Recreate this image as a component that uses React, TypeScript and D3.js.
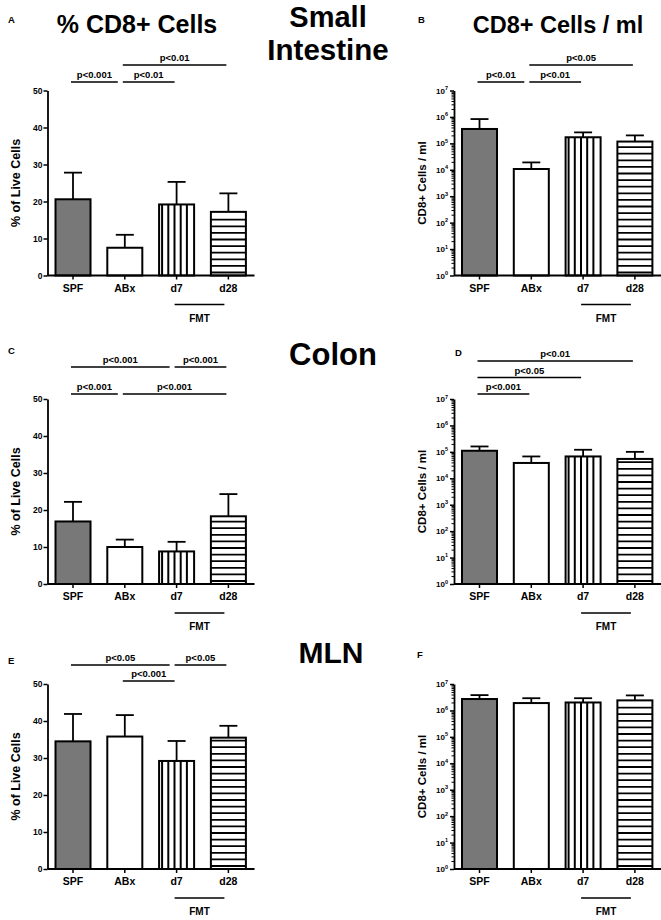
import { useEffect, useRef } from 'react'
import * as d3 from 'd3'

const W = 661
const H = 920
const FONT = "'Liberation Sans', Arial, Helvetica, sans-serif"

const groups = ['SPF', 'ABx', 'd7', 'd28']

// means and the top of the error bar
const siPct = [20.6, 7.5, 19.2, 17.2]
const siPctTop = [27.8, 11.0, 25.3, 22.2]
const siCount = [3.5e5, 1.07e4, 1.7e5, 1.17e5]
const siCountTop = [8.3e5, 1.9e4, 2.6e5, 2.0e5]
const colonPct = [16.9, 10.0, 8.8, 18.3]
const colonPctTop = [22.2, 12.0, 11.4, 24.3]
const colonCount = [1.1e5, 3.8e4, 6.7e4, 5.4e4]
const colonCountTop = [1.6e5, 6.7e4, 1.2e5, 1.0e5]
const mlnPct = [34.5, 35.8, 29.2, 35.5]
const mlnPctTop = [41.9, 41.6, 34.6, 38.7]
const mlnCount = [2.7e6, 1.9e6, 2.0e6, 2.4e6]
const mlnCountTop = [3.8e6, 2.9e6, 2.9e6, 3.7e6]

// comparisons: [from, to, label, level]
const siPctComps = [[0, 1, 'p<0.001', 0], [1, 2, 'p<0.01', 0], [1, 3, 'p<0.01', 1]]
const siCountComps = [[0, 1, 'p<0.01', 0], [1, 2, 'p<0.01', 0], [1, 3, 'p<0.05', 1]]
const colonPctComps = [[0, 1, 'p<0.001', 0], [1, 3, 'p<0.001', 0], [0, 2, 'p<0.001', 1], [2, 3, 'p<0.001', 1]]
const colonCountComps = [[0, 1, 'p<0.001', 0], [0, 2, 'p<0.05', 1], [0, 3, 'p<0.01', 2]]
const mlnPctComps = [[1, 2, 'p<0.001', 0], [0, 2, 'p<0.05', 1], [2, 3, 'p<0.05', 1]]
const mlnCountComps = []

const linTicks = [0, 10, 20, 30, 40, 50]
const logExps = [0, 1, 2, 3, 4, 5, 6, 7]

const colTitles = ['% CD8+ Cells', 'CD8+ Cells / ml']
const rowTitles = [['Small', 'Intestine'], ['Colon'], ['MLN']]

// layout
const colAxisX = [47.5, 454]
const rowTop = [90.5, 399, 684]
const plotH = 185

const panels = [
  { letter: 'A', col: 0, row: 0, log: false, mean: siPct, top: siPctTop, comps: siPctComps, sigBase: 8.5, sigGap: 17, lx: 8, ly: 23 },
  { letter: 'B', col: 1, row: 0, log: true, mean: siCount, top: siCountTop, comps: siCountComps, sigBase: 8.5, sigGap: 17, lx: 418, ly: 23 },
  { letter: 'C', col: 0, row: 1, log: false, mean: colonPct, top: colonPctTop, comps: colonPctComps, sigBase: 5, sigGap: 27, lx: 8, ly: 354 },
  { letter: 'D', col: 1, row: 1, log: true, mean: colonCount, top: colonCountTop, comps: colonCountComps, sigBase: 5, sigGap: 16.5, lx: 455, ly: 356 },
  { letter: 'E', col: 0, row: 2, log: false, mean: mlnPct, top: mlnPctTop, comps: mlnPctComps, sigBase: 3, sigGap: 16, lx: 8, ly: 664 },
  { letter: 'F', col: 1, row: 2, log: true, mean: mlnCount, top: mlnCountTop, comps: mlnCountComps, sigBase: 3, sigGap: 16, lx: 417, ly: 658 },
]

const App = () => {
  const svgRef = useRef(null)

  useEffect(() => {
    const svg = d3.select(svgRef.current)
    svg.selectAll('*').remove()
    svg.append('rect').attr('width', W).attr('height', H).attr('fill', '#fff')

    const txt = (x, y, s, size, anchor = 'middle') =>
      svg
        .append('text')
        .attr('x', x)
        .attr('y', y)
        .attr('text-anchor', anchor)
        .attr('font-family', FONT)
        .attr('font-weight', 'bold')
        .attr('font-size', size)
        .text(s)

    // column titles
    txt(137, 33, colTitles[0], 25)
    txt(558, 33, colTitles[1], 23.5)
    // row titles (first one on two lines)
    txt(328, 26.5, rowTitles[0][0], 29)
    txt(328, 60, rowTitles[0][1], 29.5)
    txt(333, 365, rowTitles[1][0], 31)
    txt(331, 663, rowTitles[2][0], 30)

    panels.forEach((p) => {
      const ax = colAxisX[p.col]
      const top = rowTop[p.row]
      const bottom = top + plotH
      const g = svg.append('g')

      txt(p.lx, p.ly, p.letter, 9.5, 'start')

      const x = d3
        .scaleBand()
        .domain(groups)
        .range([ax + 8, ax + 8 + 190.4])
        .paddingInner(0.324)
        .paddingOuter(0)
      const y = p.log
        ? d3.scaleLog().domain([1, 1e7]).range([bottom, top])
        : d3.scaleLinear().domain([0, 50]).range([bottom, top])
      const base = y(p.log ? 1 : 0)
      const cx = (i) => x(groups[i]) + x.bandwidth() / 2
      const bw = x.bandwidth()

      // bars (fill)
      g.selectAll('rect.fill')
        .data(groups)
        .join('rect')
        .attr('x', (d) => x(d))
        .attr('y', (d, i) => y(p.mean[i]))
        .attr('width', bw)
        .attr('height', (d, i) => base - y(p.mean[i]))
        .attr('fill', (d, i) => (i === 0 ? '#787878' : '#fff'))

      // stripes for the FMT groups
      const vTop = y(p.mean[2])
      const vx = d3.range(3, bw - 2, 6.2).map((o) => x('d7') + o)
      g.append('g')
        .selectAll('line')
        .data(vx)
        .join('line')
        .attr('x1', (d) => d)
        .attr('x2', (d) => d)
        .attr('y1', vTop)
        .attr('y2', base)
        .attr('stroke', '#000')
        .attr('stroke-width', 2)
      const hTop = y(p.mean[3])
      const hy = d3.range(base - 3, hTop + 2, -6.6)
      g.append('g')
        .selectAll('line')
        .data(hy)
        .join('line')
        .attr('x1', x('d28'))
        .attr('x2', x('d28') + bw)
        .attr('y1', (d) => d)
        .attr('y2', (d) => d)
        .attr('stroke', '#000')
        .attr('stroke-width', 1.8)

      // bar outlines
      g.append('g')
        .selectAll('rect')
        .data(groups)
        .join('rect')
        .attr('x', (d) => x(d))
        .attr('y', (d, i) => y(p.mean[i]))
        .attr('width', bw)
        .attr('height', (d, i) => base - y(p.mean[i]))
        .attr('fill', 'none')
        .attr('stroke', '#000')
        .attr('stroke-width', 2)

      // error bars (upper only)
      const eb = g.append('g').attr('stroke', '#000').attr('stroke-width', 1.8)
      eb.selectAll('line.v')
        .data(groups)
        .join('line')
        .attr('x1', (d, i) => cx(i))
        .attr('x2', (d, i) => cx(i))
        .attr('y1', (d, i) => y(p.mean[i]))
        .attr('y2', (d, i) => y(p.top[i]))
      eb.selectAll('line.c')
        .data(groups)
        .enter()
        .append('line')
        .attr('x1', (d, i) => cx(i) - 9)
        .attr('x2', (d, i) => cx(i) + 9)
        .attr('y1', (d, i) => y(p.top[i]))
        .attr('y2', (d, i) => y(p.top[i]))

      // y axis
      if (!p.log) {
        g.append('g')
          .attr('transform', `translate(${ax},0)`)
          .call(d3.axisLeft(y).tickValues(linTicks).tickSize(4).tickSizeOuter(0).tickPadding(1))
          .call((a) => a.select('.domain').attr('stroke-width', 1.8))
          .call((a) => a.selectAll('.tick line').attr('stroke-width', 1.5))
          .call((a) =>
            a
              .selectAll('.tick text')
              .attr('font-family', FONT)
              .attr('font-weight', 'bold')
              .attr('font-size', 8.5)
          )
      } else {
        const all = []
        logExps.forEach((e) => {
          all.push(10 ** e)
          if (e < 7) for (let m = 2; m <= 9; m++) all.push(m * 10 ** e)
        })
        const isMajor = (v) => Math.abs(Math.log10(v) - Math.round(Math.log10(v))) < 1e-9
        const ya = g
          .append('g')
          .attr('transform', `translate(${ax},0)`)
          .call(d3.axisLeft(y).tickValues(all).tickFormat(() => '').tickSizeOuter(0))
          .call((a) => a.select('.domain').attr('stroke-width', 1.8))
        ya.selectAll('.tick line')
          .attr('x2', (d) => (isMajor(d) ? -4 : -2.5))
          .attr('stroke-width', (d) => (isMajor(d) ? 1.5 : 1))
        const lbl = ya
          .append('g')
          .selectAll('text')
          .data(logExps)
          .join('text')
          .attr('x', -6)
          .attr('y', (e) => y(10 ** e) + 3)
          .attr('text-anchor', 'end')
          .attr('fill', '#000')
          .attr('font-family', FONT)
          .attr('font-weight', 'bold')
          .attr('font-size', 8)
        lbl.append('tspan').text('10')
        lbl
          .append('tspan')
          .attr('dy', -3.5)
          .attr('font-size', 5.5)
          .text((e) => e)
      }

      // y label
      g.append('text')
        .attr('transform', `translate(${ax - 28},${top + plotH / 2}) rotate(-90)`)
        .attr('text-anchor', 'middle')
        .attr('font-family', FONT)
        .attr('font-weight', 'bold')
        .attr('font-size', p.log ? 11.5 : 12.5)
        .text(p.log ? 'CD8+ Cells / ml' : '% of Live Cells')

      // x axis
      g.append('line')
        .attr('x1', ax)
        .attr('x2', ax + 207)
        .attr('y1', bottom)
        .attr('y2', bottom)
        .attr('stroke', '#000')
        .attr('stroke-width', 1.8)
      g.append('g')
        .selectAll('line')
        .data(groups)
        .join('line')
        .attr('x1', (d, i) => cx(i))
        .attr('x2', (d, i) => cx(i))
        .attr('y1', bottom)
        .attr('y2', bottom + 4)
        .attr('stroke', '#000')
        .attr('stroke-width', 1.5)
      g.append('g')
        .selectAll('text')
        .data(groups)
        .join('text')
        .attr('x', (d, i) => cx(i))
        .attr('y', bottom + 16)
        .attr('text-anchor', 'middle')
        .attr('font-family', FONT)
        .attr('font-weight', 'bold')
        .attr('font-size', 10.5)
        .text((d) => d)

      // FMT bracket
      g.append('line')
        .attr('x1', cx(2) - 2)
        .attr('x2', cx(3) - 4)
        .attr('y1', bottom + 29)
        .attr('y2', bottom + 29)
        .attr('stroke', '#000')
        .attr('stroke-width', 1.6)
      g.append('text')
        .attr('x', (cx(2) + cx(3)) / 2 - 3)
        .attr('y', bottom + 46)
        .attr('text-anchor', 'middle')
        .attr('font-family', FONT)
        .attr('font-weight', 'bold')
        .attr('font-size', 10)
        .text('FMT')

      // significance lines
      const sg = g.append('g')
      p.comps.forEach(([from, to, label, level]) => {
        const ly = top - p.sigBase - level * p.sigGap
        const next = p.comps.some((c) => c[3] === level && c[0] === to)
        const x1 = cx(from) - 2
        const x2 = cx(to) - 2 - (next ? 5 : 0)
        sg.append('line')
          .attr('x1', x1)
          .attr('x2', x2)
          .attr('y1', ly)
          .attr('y2', ly)
          .attr('stroke', '#000')
          .attr('stroke-width', 1.6)
        sg.append('text')
          .attr('x', (x1 + x2) / 2)
          .attr('y', ly - 4)
          .attr('text-anchor', 'middle')
          .attr('font-family', FONT)
          .attr('font-weight', 'bold')
          .attr('font-size', 9.5)
          .text(label)
      })
    })
  }, [])

  return (
    <svg
      ref={svgRef}
      width={W}
      height={H}
      style={{ position: 'absolute', left: 0, top: 0, display: 'block' }}
    />
  )
}

export default App
